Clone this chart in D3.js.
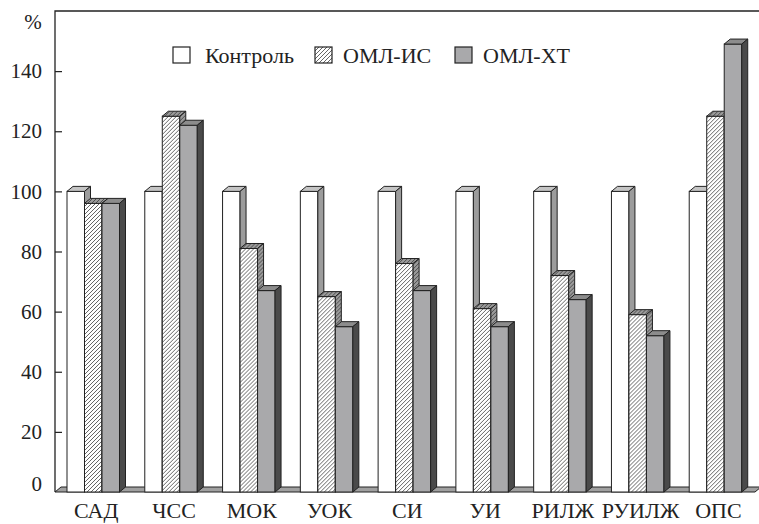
<!DOCTYPE html>
<html>
<head>
<meta charset="utf-8">
<script src="https://cdn.jsdelivr.net/npm/d3@7"></script>
</head>
<body style="margin:0">
<svg id="chart" width="759" height="524" style="font-family: 'Liberation Serif', serif"></svg>
<script>
const categories = ["САД", "ЧСС", "МОК", "УОК", "СИ", "УИ", "РИЛЖ", "РУИЛЖ", "ОПС"];
const seriesNames = ["Контроль", "ОМЛ-ИС", "ОМЛ-ХТ"];
const control = [100, 100, 100, 100, 100, 100, 100, 100, 100];
const omlIS = [96, 125, 81, 65, 76, 61, 72, 59, 125];
const omlXT = [96, 122, 67, 55, 67, 55, 64, 52, 149];
const yTicks = [0, 20, 40, 60, 80, 100, 120, 140];

const drawChart = () => {
    const svg = d3.select("#chart");
    const left = 55, right = 755, top = 11, bottom = 492;
    const dx = 6, dy = 5; // 3d depth

    const x = d3.scaleBand().domain(categories).range([left, right]).padding(0);
    const xs = d3.scaleBand().domain(seriesNames).range([12, 12 + 52.5]).padding(0);
    const y = d3.scaleLinear().domain([0, 160]).range([bottom, top]);

    // hatch patterns
    const defs = svg.append("defs");
    const hatch = (id, bg, fg) => {
        const p = defs.append("pattern").attr("id", id)
            .attr("patternUnits", "userSpaceOnUse").attr("width", 4).attr("height", 4);
        p.append("rect").attr("width", 4).attr("height", 4).attr("fill", bg);
        p.append("path").attr("d", "M-1,1 l2,-2 M0,4 l4,-4 M3,5 l2,-2")
            .attr("stroke", fg).attr("stroke-width", 0.9);
    };
    hatch("hatchFront", "#fff", "#555");
    hatch("hatchDark", "#9a9a9a", "#444");

    const styles = {
        "Контроль": { front: "#fff", top: "#c4c4c4", side: "#9c9c9c" },
        "ОМЛ-ИС": { front: "url(#hatchFront)", top: "url(#hatchDark)", side: "url(#hatchDark)" },
        "ОМЛ-ХТ": { front: "#a9a9ab", top: "#8c8c8c", side: "#4a4a4a" }
    };

    // floor
    svg.append("path")
        .attr("d", `M${left},${y(0)} L${right},${y(0)} L${right + dx},${y(0) - dy} L${left + dx},${y(0) - dy} Z`)
        .attr("fill", "#a0a0a0").attr("stroke", "#222").attr("stroke-width", 1);

    // frame
    svg.append("path")
        .attr("d", `M${left},${y(0)} L${left},${top} L759,${top}`)
        .attr("fill", "none").attr("stroke", "#222").attr("stroke-width", 1.3);

    // y axis
    const yAxis = svg.append("g")
        .attr("transform", `translate(${left},0)`)
        .call(d3.axisLeft(y).tickValues(yTicks).tickSizeInner(-7).tickSizeOuter(0).tickPadding(13));
    yAxis.attr("font-family", null).attr("font-size", 21);
    yAxis.select(".domain").remove();
    yAxis.selectAll(".tick line").attr("stroke", "#222").attr("stroke-width", 1.2)
        .filter(d => d === 0).remove();
    yAxis.selectAll(".tick text").attr("fill", "#222")
        .attr("dy", d => d === 0 ? "-0.05em" : "0.32em");

    svg.append("text").attr("x", 33).attr("y", 29).attr("text-anchor", "middle")
        .attr("font-size", 21).attr("fill", "#222").text("%");

    // bars
    const data = categories.map((c, i) => ({
        cat: c,
        vals: [control[i], omlIS[i], omlXT[i]].map((v, j) => ({ cat: c, s: seriesNames[j], v }))
    }));

    const groups = svg.selectAll("g.grp")
        .data(data)
        .enter().append("g").attr("class", "grp")
        .attr("transform", d => `translate(${x(d.cat)},0)`);

    const bar = groups.selectAll("g.bar")
        .data(d => d.vals)
        .enter().append("g").attr("class", "bar");

    const w = xs.bandwidth();
    // front
    bar.append("rect")
        .attr("x", d => xs(d.s)).attr("y", d => y(d.v))
        .attr("width", w).attr("height", d => y(0) - y(d.v))
        .attr("fill", d => styles[d.s].front)
        .attr("stroke", "#222").attr("stroke-width", 1);
    // top
    bar.append("path")
        .attr("d", d => {
            const x0 = xs(d.s), y0 = y(d.v);
            return `M${x0},${y0} L${x0 + dx},${y0 - dy} L${x0 + w + dx},${y0 - dy} L${x0 + w},${y0} Z`;
        })
        .attr("fill", d => styles[d.s].top)
        .attr("stroke", "#222").attr("stroke-width", 1).attr("stroke-linejoin", "round");
    // side
    bar.append("path")
        .attr("d", d => {
            const x0 = xs(d.s) + w, y0 = y(d.v);
            return `M${x0},${y0} L${x0 + dx},${y0 - dy} L${x0 + dx},${y(0) - dy} L${x0},${y(0)} Z`;
        })
        .attr("fill", d => styles[d.s].side)
        .attr("stroke", "#222").attr("stroke-width", 1).attr("stroke-linejoin", "round");

    // x labels
    svg.selectAll("text.xlab")
        .data(categories)
        .enter().append("text").attr("class", "xlab")
        .attr("x", d => x(d) + 12 + 52.5 / 2 + 3)
        .attr("y", 518)
        .attr("text-anchor", "middle")
        .attr("font-size", 22).attr("fill", "#222")
        .text(d => d);

    // legend
    const legX = [173, 315, 455];
    const legend = svg.selectAll("g.leg")
        .data(seriesNames)
        .enter().append("g").attr("class", "leg")
        .attr("transform", (d, i) => `translate(${legX[i]},47)`);
    legend.append("rect")
        .attr("width", 17).attr("height", 16)
        .attr("fill", d => styles[d].front)
        .attr("stroke", "#222").attr("stroke-width", 1.2);
    legend.append("text")
        .attr("x", (d, i) => i === 0 ? 32 : 28).attr("y", 16)
        .attr("font-size", 22).attr("fill", "#222")
        .text(d => d);
};

drawChart();
</script>
</body>
</html>
